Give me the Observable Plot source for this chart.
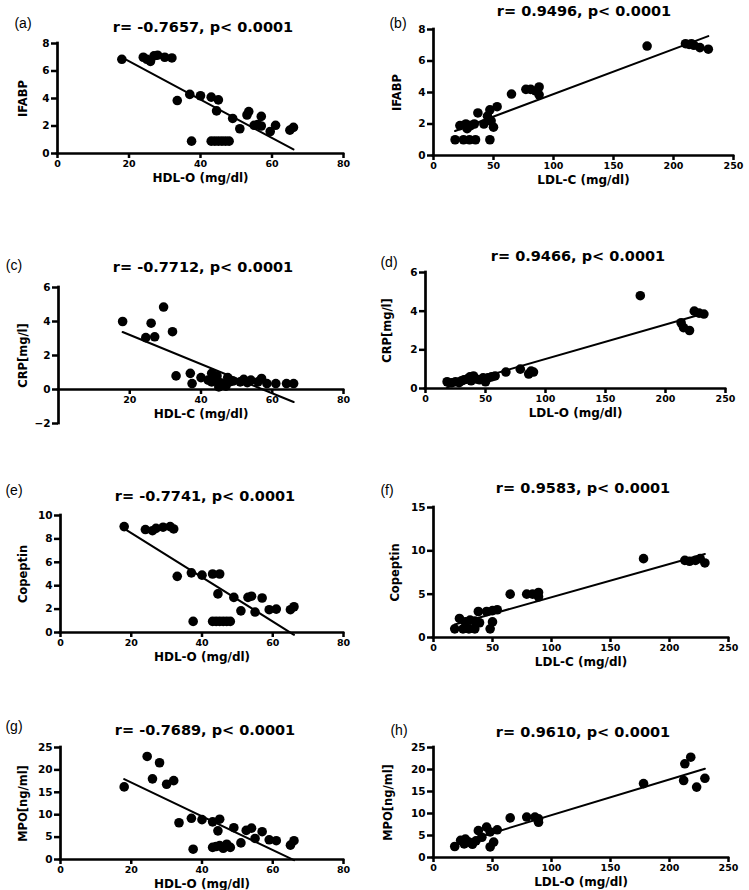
<!DOCTYPE html>
<html>
<head>
<meta charset="utf-8">
<script src="https://cdn.jsdelivr.net/npm/d3@7"></script>
<script src="https://cdn.jsdelivr.net/npm/@observablehq/plot@0.6"></script>
<style>
  body { margin: 0; background: #fff; }
  #root { position: relative; width: 749px; height: 890px; overflow: hidden; background: #fff; }
  .title { position: absolute; font-family: "DejaVu Sans", sans-serif; font-weight: bold; font-size: 14.5px; white-space: nowrap; transform: translate(-50%, -50%); color: #000; }
  .letter { position: absolute; font-family: "Liberation Sans", Arial, sans-serif; font-size: 14px; white-space: nowrap; transform: translate(-50%, -50%); color: #000; }
  svg { position: absolute; overflow: visible; }
</style>
</head>
<body>
<div id="root"></div>
<script>
// ---------- data ----------
const aHDL   = [18,24,25,26,27,28,30,32,33.5,37,40,43,45,44.5,49,53,53.5,51,55,56,57,57,59.5,61,65,66,37.5,43,44,45,46,47,48];
const aIFABP = [6.85,7.0,6.85,6.7,7.1,7.15,7.0,6.95,3.85,4.3,4.2,4.1,3.9,3.1,2.55,2.8,3.05,1.8,2.05,2.1,2.0,2.7,1.6,2.05,1.7,1.9,0.9,0.9,0.9,0.9,0.9,0.9,0.9];

const bLDL   = [18,25,30,35,47,22,28,31,27,34,37,42,45,47,50,53,48,65,77,81,88,88,85,178,210,213,217,215,222,229];
const bIFABP = [1,1,1,1,1,1.9,1.7,1.9,2.0,2.0,2.7,2.0,2.5,2.9,1.8,3.1,2.2,3.9,4.2,4.2,4.35,3.85,4.1,6.95,7.1,7.05,7.0,7.1,6.85,6.75];

const cHDL = [18,29.5,26,24.5,27,32,33,37,37.5,40,43,44.5,43,45.5,47.5,49,51,54,56,57,58.5,61,64,66,45,46,47,48,52,44,53,42];
const cCRP = [4.0,4.85,3.9,3.05,3.1,3.4,0.8,0.95,0.35,0.7,0.95,0.8,0.45,0.4,0.7,0.5,0.45,0.55,0.45,0.65,0.35,0.35,0.35,0.35,0.15,0.3,0.2,0.45,0.6,0.6,0.4,0.55];

const dLDL = [18,22,25,28,30,32,35,37,38,40,42,45,48,50,52,55,58,67,79,86,88,90,179,213,215,220,224,228,232];
const dCRP = [0.35,0.3,0.35,0.3,0.4,0.45,0.5,0.6,0.4,0.65,0.5,0.45,0.55,0.35,0.55,0.6,0.65,0.85,1.0,0.75,0.9,0.85,4.8,3.4,3.15,3.0,4.0,3.9,3.85];

const eHDL      = [18,24,26,27,29,31,32,33,37,40,43,45,44.5,49,53,54,57,51,55,59,61,65,66,37.5,43,44,45,46,47,48];
const eCopeptin = [9.05,8.8,8.7,8.9,9.0,9.05,8.85,4.8,5.1,4.9,5.0,5.0,3.3,3.0,3.0,3.1,2.95,1.85,1.75,1.95,2.0,1.95,2.2,0.95,0.95,0.95,0.95,0.95,0.95,0.95];

const fLDL      = [18,25,30,35,48,22,27,31,35,39,38,45,50,54,50,65,79,84,89,89,178,213,217,222,226,230];
const fCopeptin = [1,1,1,1,1.0,2.2,1.8,2.0,1.9,1.7,3.0,3.0,3.1,3.2,1.8,5.0,5.0,5.0,5.2,4.7,9.1,8.9,8.8,8.9,9.1,8.6];

const gHDL = [18,24.5,28,26,30,32,33.5,37,40,43,45,44.5,49,52.5,54,57,55,51,59,61,65,66,37.5,43,44,45,46,47,48];
const gMPO = [16.2,23.0,21.6,18.0,16.8,17.6,8.2,9.2,8.9,8.4,9.0,6.4,7.1,6.5,7.0,6.2,4.7,3.7,4.4,4.2,3.2,4.2,2.3,2.7,2.9,3.1,2.5,3.4,2.7];

const hLDL = [18,23,27,30,33,26,36,38,41,45,48,54,51,48,65,79,86,89,89,178,212,213,218,223,230];
const hMPO = [2.5,3.9,4.2,3.5,3.0,3.1,3.8,6.1,4.6,6.9,5.8,6.3,3.5,2.4,9.0,9.2,9.2,8.0,8.8,16.8,17.5,21.3,22.8,16.0,18.0];

// ---------- tick values and labels ----------
const ticksHDL   = [0,20,40,60,80];
const ticksHDLc  = [20,40,60,80];
const ticksLDL   = [0,50,100,150,200,250];
const ticksIFABP = [0,2,4,6,8];
const ticksCRPc  = [-2,0,2,4,6];
const ticksCRPd  = [0,2,4,6];
const ticksCop10 = [0,2,4,6,8,10];
const ticksCop15 = [0,5,10,15];
const ticksMPO   = [0,5,10,15,20,25];

const titles  = ["r= -0.7657, p< 0.0001","r= 0.9496, p< 0.0001","r= -0.7712, p< 0.0001","r= 0.9466, p< 0.0001",
                 "r= -0.7741, p< 0.0001","r= 0.9583, p< 0.0001","r= -0.7689, p< 0.0001","r= 0.9610, p< 0.0001"];
const letters = ["(a)","(b)","(c)","(d)","(e)","(f)","(g)","(h)"];
const xLabels = ["HDL-O (mg/dl)","LDL-C (mg/dl)","HDL-C (mg/dl)","LDL-O (mg/dl)","HDL-O (mg/dl)","LDL-C (mg/dl)","HDL-O (mg/dl)","LDL-O (mg/dl)"];
const yLabels = ["IFABP","IFABP","CRP[mg/l]","CRP[mg/l]","Copeptin","Copeptin","MPO[ng/ml]","MPO[ng/ml]"];

// ---------- layout (pixel frames: x0, x1, yTop, yBottom) ----------
const panels = [
  {xs:aHDL, ys:aIFABP,    xDomain:[0,80],  yDomain:[0,8],  xAxisAt:0, xTicks:ticksHDL,  yTicks:ticksIFABP, box:[57,343,43,153],  yLab:34, letter:[23,23],   tpos:[203,27]},
  {xs:bLDL, ys:bIFABP,    xDomain:[0,250], yDomain:[0,8],  xAxisAt:0, xTicks:ticksLDL,  yTicks:ticksIFABP, box:[433,733,29,155], yLab:36, letter:[398,23],  tpos:[584,11]},
  {xs:cHDL, ys:cCRP,      xDomain:[0,80],  yDomain:[-2,6], xAxisAt:0, xTicks:ticksHDLc, yTicks:ticksCRPc,  box:[58,343,287,423], yLab:35, letter:[14,265],  tpos:[203,267]},
  {xs:dLDL, ys:dCRP,      xDomain:[0,250], yDomain:[0,6],  xAxisAt:0, xTicks:ticksLDL,  yTicks:ticksCRPd,  box:[425,725,272,388],yLab:38, letter:[389,262], tpos:[578,256]},
  {xs:eHDL, ys:eCopeptin, xDomain:[0,80],  yDomain:[0,10], xAxisAt:0, xTicks:ticksHDL,  yTicks:ticksCop10, box:[60,343,515,632], yLab:37, letter:[14,490],  tpos:[205,496]},
  {xs:fLDL, ys:fCopeptin, xDomain:[0,250], yDomain:[0,15], xAxisAt:0, xTicks:ticksLDL,  yTicks:ticksCop15, box:[433,728,507,637],yLab:38, letter:[387,490], tpos:[583,488]},
  {xs:gHDL, ys:gMPO,      xDomain:[0,80],  yDomain:[0,25], xAxisAt:0, xTicks:ticksHDL,  yTicks:ticksMPO,   box:[60,343,747,859], yLab:37, letter:[14,726],  tpos:[205,730]},
  {xs:hLDL, ys:hMPO,      xDomain:[0,250], yDomain:[0,25], xAxisAt:0, xTicks:ticksLDL,  yTicks:ticksMPO,   box:[433,728,747,857],yLab:45, letter:[399,730], tpos:[583,732]}
];

const root = document.getElementById("root");

panels.forEach((p, i) => {
  const [x0, x1, yt, yb] = p.box;
  const mL = 60, mR = 14, mT = 8, mB = 36;
  const fh = yb - yt;
  const axisDy = -fh * (p.xAxisAt - p.yDomain[0]) / (p.yDomain[1] - p.yDomain[0]);
  const data = p.xs.map((x, j) => ({x, y: p.ys[j]}));
  const svg = Plot.plot({
    width: x1 - x0 + mL + mR,
    height: fh + mT + mB,
    marginLeft: mL, marginRight: mR, marginTop: mT, marginBottom: mB,
    style: {fontFamily: "DejaVu Sans", fontWeight: "bold", fontSize: "10px", color: "#000", background: "none", overflow: "visible"},
    x: {domain: p.xDomain},
    y: {domain: p.yDomain},
    marks: [
      Plot.axisX(p.xTicks, {dy: axisDy, tickSize: 5, strokeWidth: 2.5, tickPadding: 1.5, fontSize: 9.5, fontWeight: "bold", label: null}),
      Plot.axisY(p.yTicks, {tickSize: 6, strokeWidth: 2.5, tickPadding: 2, fontSize: 10.5, fontWeight: "bold", label: null}),
      Plot.ruleY([p.xAxisAt], {strokeWidth: 2.7, strokeLinecap: "square"}),
      Plot.ruleX([p.xDomain[0]], {strokeWidth: 2.7, strokeLinecap: "square"}),
      Plot.linearRegressionY(data, {x: "x", y: "y", stroke: "black", strokeWidth: 2, ci: 0}),
      Plot.dot(data, {x: "x", y: "y", r: 4.8, fill: "black", stroke: "none"}),
      Plot.text([xLabels[i]], {frameAnchor: "bottom", dy: 25 + axisDy, fontSize: 12, fontWeight: "bold", lineAnchor: "middle", fill: "black"}),
      Plot.text([yLabels[i]], {frameAnchor: "left", dx: -p.yLab, rotate: -90, fontSize: 11.5, fontWeight: "bold", lineAnchor: "middle", textAnchor: "middle", fill: "black"})
    ]
  });
  svg.style.left = (x0 - mL) + "px";
  svg.style.top = (yt - mT) + "px";
  root.appendChild(svg);

  const t = document.createElement("div");
  t.className = "title";
  t.textContent = titles[i];
  t.style.left = p.tpos[0] + "px";
  t.style.top = p.tpos[1] + "px";
  root.appendChild(t);

  const l = document.createElement("div");
  l.className = "letter";
  l.textContent = letters[i];
  l.style.left = p.letter[0] + "px";
  l.style.top = p.letter[1] + "px";
  root.appendChild(l);
});
</script>
</body>
</html>
